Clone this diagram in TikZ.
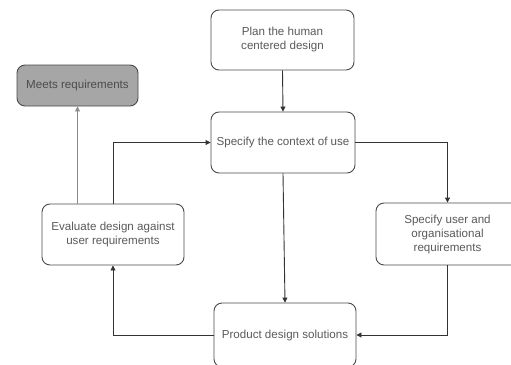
\documentclass[tikz,border=0pt]{standalone}
\usepackage{fontspec}
\setmainfont{Liberation Sans}
\usetikzlibrary{arrows.meta}
\definecolor{boxline}{HTML}{4A4A4A}
\definecolor{boxtext}{HTML}{5A5A5A}
\definecolor{goalfill}{HTML}{A6A6A6}
\begin{document}
\begin{tikzpicture}[x=1pt,y=-1pt]
\tikzstyle{every node}=[font=\fontsize{11.6}{14}\selectfont]
\tikzstyle{stage}=[draw=boxline, line width=0.9pt, rounded corners=8pt, fill=white, text=boxtext, align=center, inner sep=0pt]
\tikzstyle{flow}=[draw=black!80, line width=0.9pt, -{Triangle[length=5pt,width=5pt]}]
\clip (0,0) rectangle (511,364);

\node[stage, minimum width=143pt, minimum height=60pt] (plan) at (282.5,40) {Plan the human\\centered design};
\node[stage, minimum width=144pt, minimum height=61pt] (context) at (283,142.5) {Specify the context of use};
\node[stage, fill=goalfill, text=black!70, minimum width=121pt, minimum height=41pt] (meets) at (77.5,85.5) {Meets requirements};
\node[stage, minimum width=142pt, minimum height=61pt] (evaluate) at (113,234.5) {Evaluate design against\\user requirements};
\node[stage, minimum width=143pt, minimum height=62pt] (user) at (447.5,234) {Specify user and\\organisational\\requirements};
\node[stage, minimum width=142pt, minimum height=64pt] (product) at (285,335) {Product design solutions};

\draw[flow] (plan.south) -- (context.north);
\draw[flow] (context.east) -| (user.north);
\draw[flow] (context.south) -- (product.north);
\draw[flow] (user.south) |- (product.east);
\draw[flow] (product.west) -| (evaluate.south);
\draw[flow] (evaluate.north) |- (context.west);
\draw[flow, draw=black!45, line width=0.7pt] (evaluate.north -| meets.south) -- (meets.south);
\end{tikzpicture}
\end{document}
